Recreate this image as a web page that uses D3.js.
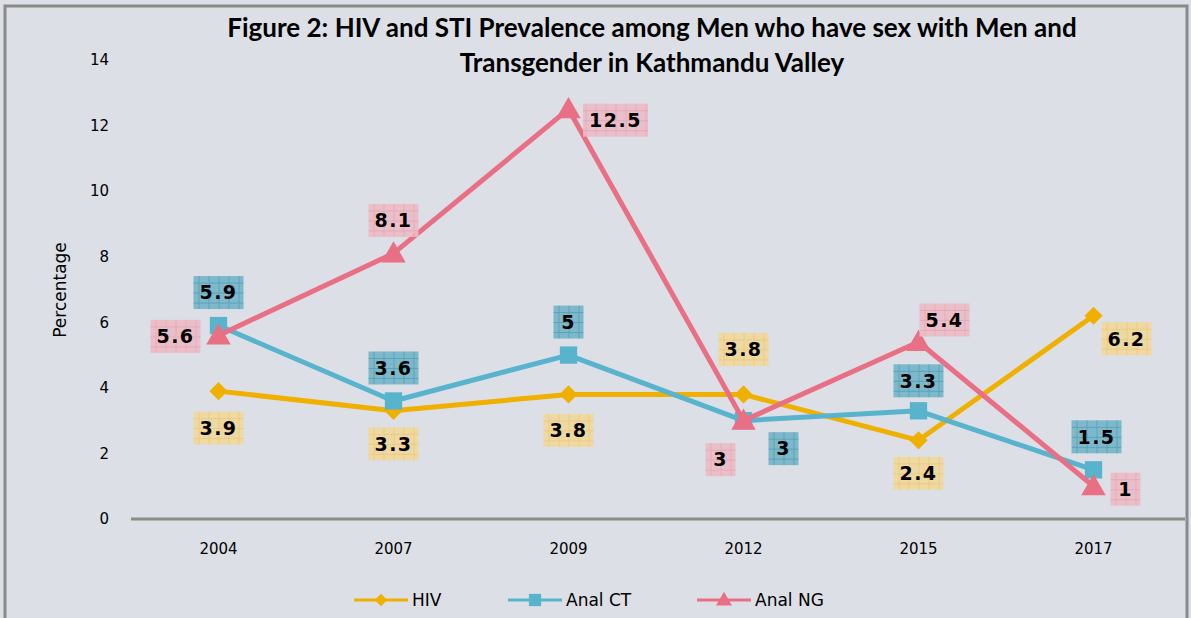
<!DOCTYPE html>
<html>
<head>
<script src="https://d3js.org/d3.v7.min.js"></script>
<style>
  html, body { margin: 0; padding: 0; background: #dcdfe6; }
  svg { display: block; }
</style>
</head>
<body>
<svg id="chart" width="1191" height="618"></svg>
<script>
// data
const years = ["2004", "2007", "2009", "2012", "2015", "2017"];
const hiv    = [3.9, 3.3, 3.8, 3.8, 2.4, 6.2];
const analCT = [5.9, 3.6, 5.0, 3.0, 3.3, 1.5];
const analNG = [5.6, 8.1, 12.5, 3.0, 5.4, 1.0];
const yTicks = [0, 2, 4, 6, 8, 10, 12, 14];

// where each value label sits relative to its point
const hivLabelShift = [[0, 37], [0, 33], [0, 36], [0, -45], [0, 33], [33, 23]];
const ctLabelShift  = [[0, -33], [0, -33], [0, -33], [40, 28], [0, -30], [3, -33]];
const ngLabelShift  = [[-43, 1], [0, -33], [47, 11], [-23, 39], [26, -22], [32, 3]];

const svg = d3.select("#chart");

// chart border
svg.append("rect")
  .attr("x", 5).attr("y", 6).attr("width", 1182).attr("height", 620)
  .attr("fill", "#dcdfe6").attr("stroke", "#8a8a8a").attr("stroke-width", 3);

const x = d3.scaleBand().domain(years).range([131, 1181]);
const y = d3.scaleLinear().domain([0, 14]).range([519, 60]);
const cx = d => x(d) + x.bandwidth() / 2;

// title
const titleLines = ["Figure 2: HIV and STI Prevalence among Men who have sex with Men and",
                    "Transgender in Kathmandu Valley"];
svg.selectAll(".title")
  .data(titleLines)
  .enter()
  .append("text")
  .attr("class", "title")
  .attr("x", 652).attr("y", (d, i) => 37 + i * 35)
  .attr("text-anchor", "middle")
  .style("font-family", "Lato, 'Open Sans', sans-serif")
  .style("font-weight", "bold").style("font-size", "26px")
  .text(d => d);

// axes
const yAxis = svg.append("g")
  .attr("transform", "translate(131,0)")
  .call(d3.axisLeft(y).tickValues(yTicks).tickSize(0).tickPadding(22));
const xAxis = svg.append("g")
  .attr("transform", "translate(0,519)")
  .call(d3.axisBottom(x).tickSize(0).tickPadding(24));
[yAxis, xAxis].forEach(g => {
  g.select(".domain").attr("stroke", "#8c8c8c").attr("stroke-width", 3);
  g.selectAll("text")
    .style("font-family", "'DejaVu Sans', sans-serif")
    .style("font-size", "15px").attr("fill", "#000");
});
xAxis.select(".domain").attr("d", "M131,0H1185");
yAxis.select(".domain").attr("d", "M0,-459V0");

// y axis title
svg.append("text")
  .attr("transform", "translate(66,290) rotate(-90)")
  .attr("text-anchor", "middle")
  .style("font-family", "'DejaVu Sans', sans-serif")
  .style("font-size", "17px")
  .text("Percentage");

// grid patterns for label boxes
const defs = svg.append("defs");
function makePattern(id, fill, line) {
  const p = defs.append("pattern")
    .attr("id", id).attr("patternUnits", "userSpaceOnUse")
    .attr("width", 10).attr("height", 10);
  p.append("rect").attr("width", 10).attr("height", 10).attr("fill", fill);
  p.append("path").attr("d", "M0,0.5H10M0.5,0V10")
    .attr("stroke", line).attr("stroke-width", 1).attr("fill", "none");
}
makePattern("pHiv", "#f1d89c", "#ecc97a");
makePattern("pCt", "#75b6c9", "#4f9db4");
makePattern("pNg", "#ebbcc6", "#e6a6b4");

const series = [
  { name: "HIV", values: hiv, color: "#f0b000", marker: "diamond", pat: "pHiv", shift: hivLabelShift },
  { name: "Anal CT", values: analCT, color: "#58b4cc", marker: "square", pat: "pCt", shift: ctLabelShift },
  { name: "Anal NG", values: analNG, color: "#e96f84", marker: "triangle", pat: "pNg", shift: ngLabelShift }
];

const symbolType = { diamond: d3.symbolDiamond2, square: d3.symbolSquare, triangle: d3.symbolTriangle };
const symbolSize = { diamond: 210, square: 300, triangle: 260 };
const legendSize = { diamond: 100, square: 150, triangle: 110 };

const line = d3.line().x((d, i) => cx(years[i])).y(d => y(d));

series.forEach(s => {
  svg.append("path")
    .datum(s.values)
    .attr("d", line)
    .attr("fill", "none")
    .attr("stroke", s.color)
    .attr("stroke-width", 5)
    .attr("stroke-linejoin", "round");
  svg.selectAll(null)
    .data(s.values)
    .enter()
    .append("path")
    .attr("d", d3.symbol().type(symbolType[s.marker]).size(symbolSize[s.marker]))
    .attr("transform", (d, i) => "translate(" + cx(years[i]) + "," + (y(d) + (s.marker === "triangle" ? 2 : 0)) + ")")
    .attr("fill", s.color);
});

// value labels
series.forEach(s => {
  const g = svg.selectAll(null)
    .data(s.values)
    .enter()
    .append("g")
    .attr("transform", (d, i) => "translate(" + (cx(years[i]) + s.shift[i][0]) + "," + (y(d) + s.shift[i][1]) + ")");
  g.append("text")
    .attr("text-anchor", "middle")
    .attr("dy", "0.36em")
    .style("font-family", "'DejaVu Sans', sans-serif")
    .style("font-weight", "bold").style("font-size", "19px")
    .style("letter-spacing", "1.5px")
    .text(d => d)
    .each(function () {
      const b = this.getBBox();
      const w = Math.max(30, Math.round(b.width + 12));
      d3.select(this.parentNode).insert("rect", "text")
        .attr("x", -w / 2)
        .attr("y", -16.5)
        .attr("width", w)
        .attr("height", 33)
        .attr("fill", "url(#" + s.pat + ")")
        .attr("opacity", 0.92);
    });
});

// legend
const legendX = [354, 508, 697];
series.forEach((s, i) => {
  const g = svg.append("g").attr("transform", "translate(" + legendX[i] + ",600)");
  g.append("line").attr("x1", 0).attr("x2", 54)
    .attr("stroke", s.color).attr("stroke-width", 3);
  g.append("path")
    .attr("d", d3.symbol().type(symbolType[s.marker]).size(legendSize[s.marker]))
    .attr("transform", "translate(27," + (s.marker === "triangle" ? 1 : 0) + ")")
    .attr("fill", s.color);
  g.append("text")
    .attr("x", 58).attr("dy", "0.36em")
    .style("font-family", "'DejaVu Sans', sans-serif")
    .style("font-size", "17px")
    .text(s.name);
});
</script>
</body>
</html>
